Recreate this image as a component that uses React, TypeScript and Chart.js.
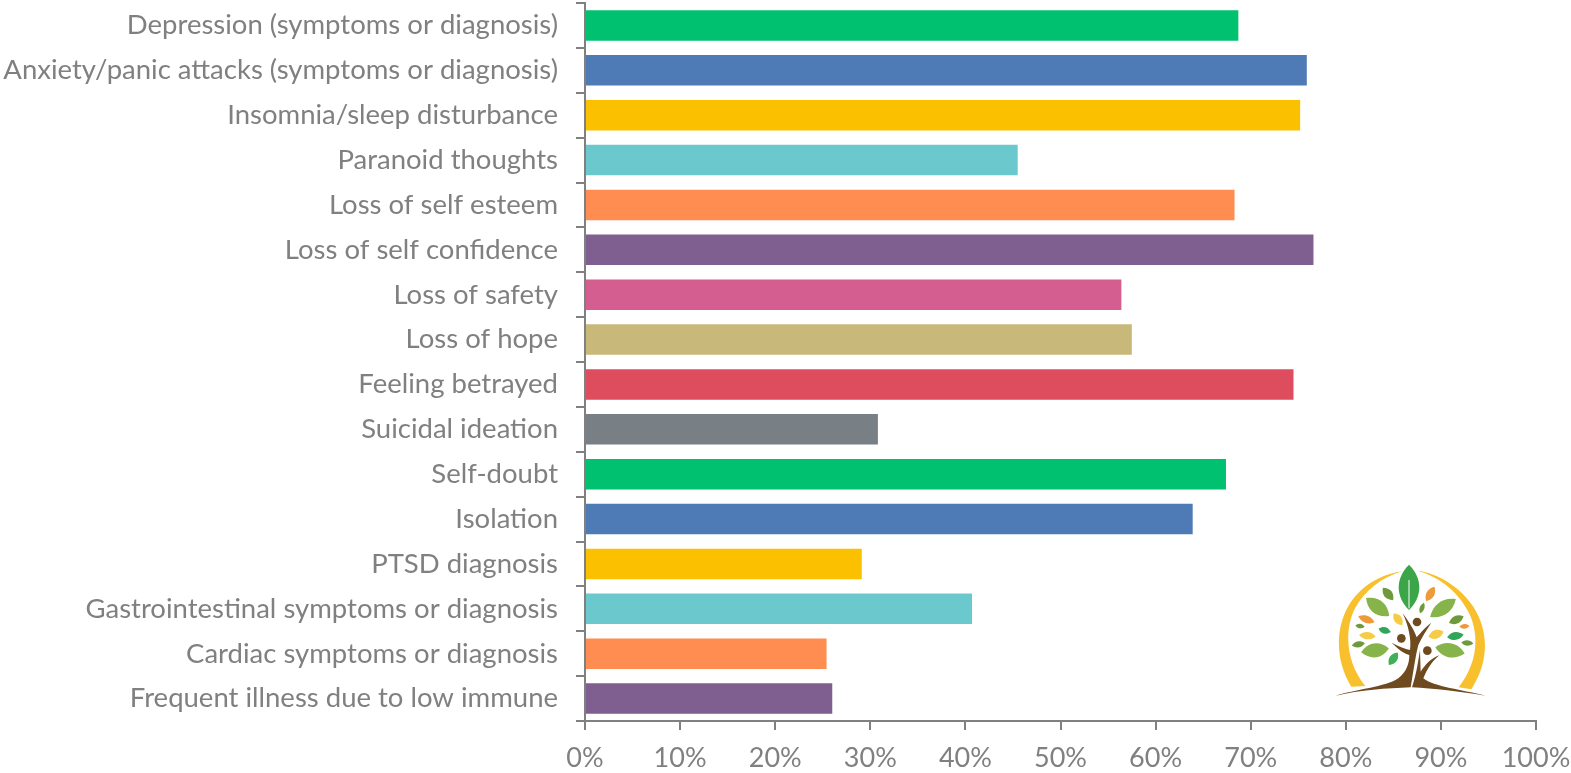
import React, { useEffect, useRef } from "react";
import { Chart, registerables } from "chart.js";

Chart.register(...registerables);

const categories = [
  "Depression (symptoms or diagnosis)",
  "Anxiety/panic attacks (symptoms or diagnosis)",
  "Insomnia/sleep disturbance",
  "Paranoid thoughts",
  "Loss of self esteem",
  "Loss of self confidence",
  "Loss of safety",
  "Loss of hope",
  "Feeling betrayed",
  "Suicidal ideation",
  "Self-doubt",
  "Isolation",
  "PTSD diagnosis",
  "Gastrointestinal symptoms or diagnosis",
  "Cardiac symptoms or diagnosis",
  "Frequent illness due to low immune",
];
const values = [68.7, 75.9, 75.2, 45.5, 68.3, 76.6, 56.4, 57.5, 74.5, 30.8, 67.4, 63.9, 29.1, 40.7, 25.4, 26.0];
const barColors = [
  "#00C170", "#4E7BB5", "#FBC000", "#6BC9CD", "#FF8C50", "#7F5F8F", "#D45E90", "#C8B87A",
  "#DE4D5E", "#788086", "#00C170", "#4E7BB5", "#FBC000", "#6BC9CD", "#FF8C50", "#7F5F8F",
];

const FONT = "Lato, Carlito, sans-serif";
const GREY = "#808080";

const leaves: [number, number, number, number, number, string][] = [
  [297, 112, 68, 31, 90, "#3AA648"],
  [234, 132, 24, 13, 50, "#6F9A3C"],
  [361, 132, 25, 12, -60, "#EE9A3C"],
  [203, 171, 44, 21, 38, "#86B34A"],
  [399, 174, 47, 20, -35, "#86B34A"],
  [336, 174, 17, 7, -70, "#6F9A3C"],
  [264, 208, 22, 12, 55, "#F6CB45"],
  [169, 208, 26, 11, 20, "#EE9A3C"],
  [150, 228, 14, 7, 10, "#6F9A3C"],
  [224, 241, 19, 10, 15, "#2FA65A"],
  [172, 257, 25, 11, 5, "#F6CB45"],
  [145, 283, 20, 9, -10, "#6F9A3C"],
  [195, 301, 42, 21, -8, "#86B34A"],
  [250, 326, 23, 12, -55, "#3FAF5A"],
  [439, 209, 24, 12, -25, "#6F9A3C"],
  [463, 229, 15, 7, -5, "#EE9A3C"],
  [378, 253, 24, 13, -20, "#F6CB45"],
  [436, 258, 25, 12, -8, "#2FA65A"],
  [472, 279, 18, 8, 5, "#6F9A3C"],
  [420, 301, 45, 21, 12, "#86B34A"],
];

function Logo() {
  return (
    <svg
      viewBox="0 0 600 480"
      width={200}
      height={160}
      style={{ position: "absolute", left: 1310, top: 550, filter: "blur(0.5px)" }}
    >
      <path d="M124 410 C80 340 70 240 120 160 C160 100 220 72 278 63 C215 82 165 120 135 175 C100 245 110 340 166 408 Z" fill="#F8C02C" />
      <path d="M322 62 C385 70 450 110 490 170 C535 240 540 330 484 418 L446 412 C495 350 512 270 480 195 C450 130 390 80 322 62 Z" fill="#F8C02C" />
      {leaves.map(([cx, cy, rx, ry, rot, color], i) => (
        <path
          key={i}
          d={`M${cx - rx} ${cy} C${cx - rx * 0.4} ${cy - ry * 1.33} ${cx + rx * 0.4} ${cy - ry * 1.33} ${cx + rx} ${cy} C${cx + rx * 0.4} ${cy + ry * 1.33} ${cx - rx * 0.4} ${cy + ry * 1.33} ${cx - rx} ${cy} Z`}
          fill={color}
          transform={`rotate(${rot} ${cx} ${cy})`}
        />
      ))}
      <path d="M297 175 L297 90" stroke="#ffffff" strokeWidth="3" fill="none" />
      <path d="M78 437 C130 420 230 410 265 385 C290 365 298 340 298 315 C280 310 262 295 245 278 C268 290 285 297 300 300 C305 270 295 225 278 190 C300 220 312 240 320 262 C335 245 345 232 364 218 C350 240 335 262 325 285 C316 320 310 365 302 412 C230 415 150 420 78 437 Z" fill="#6E4A1E" />
      <path d="M306 412 C320 370 325 330 330 300 L332 365 C345 345 362 325 388 316 C365 335 350 360 340 385 C370 410 460 420 526 437 C450 425 370 415 306 412 Z" fill="#6E4A1E" />
      <circle cx="321" cy="216" r="13" fill="#6E4A1E" />
      <circle cx="274" cy="265" r="13" fill="#6E4A1E" />
      <circle cx="352" cy="302" r="13" fill="#6E4A1E" />
    </svg>
  );
}

export default function App() {
  const ref = useRef<HTMLCanvasElement>(null);

  useEffect(() => {
    const clearPadding = (s: any) => {
      s.paddingTop = 0;
      s.paddingBottom = 0;
      s.paddingLeft = 0;
      s.paddingRight = 0;
    };
    const chart = new Chart(ref.current!, {
      type: "bar",
      data: {
        labels: categories,
        datasets: [
          {
            data: values,
            backgroundColor: barColors,
            borderWidth: 0,
            barPercentage: 0.68,
            categoryPercentage: 1,
          },
        ],
      },
      options: {
        indexAxis: "y",
        animation: false,
        responsive: false,
        layout: { autoPadding: false, padding: { top: 3, right: 35, left: 0, bottom: 0 } },
        plugins: { legend: { display: false }, tooltip: { enabled: false } },
        scales: {
          x: {
            min: 0,
            max: 100,
            afterFit: (s: any) => {
              s.height = 52;
              clearPadding(s);
            },
            border: { color: GREY, width: 2 },
            grid: { drawOnChartArea: false, drawTicks: true, tickLength: 9, color: GREY, lineWidth: 2 },
            ticks: {
              stepSize: 10,
              autoSkip: false,
              maxRotation: 0,
              padding: 12,
              color: GREY,
              font: { family: FONT, size: 27 },
              callback: (v: any) => `${v}%`,
            },
          },
          y: {
            afterFit: (s: any) => {
              s.width = 585;
              clearPadding(s);
            },
            border: { color: GREY, width: 2 },
            grid: { drawOnChartArea: false, drawTicks: true, tickLength: 9, color: GREY, lineWidth: 2 },
            ticks: {
              autoSkip: false,
              padding: 18,
              color: GREY,
              font: { family: FONT, size: 27.5 },
            },
          },
        },
      },
    });
    return () => chart.destroy();
  }, []);

  return (
    <div style={{ position: "absolute", left: 0, top: 0, width: 1571, height: 773, background: "#fff", overflow: "hidden" }}>
      <canvas ref={ref} width={1571} height={773} style={{ display: "block" }} />
      <Logo />
    </div>
  );
}
